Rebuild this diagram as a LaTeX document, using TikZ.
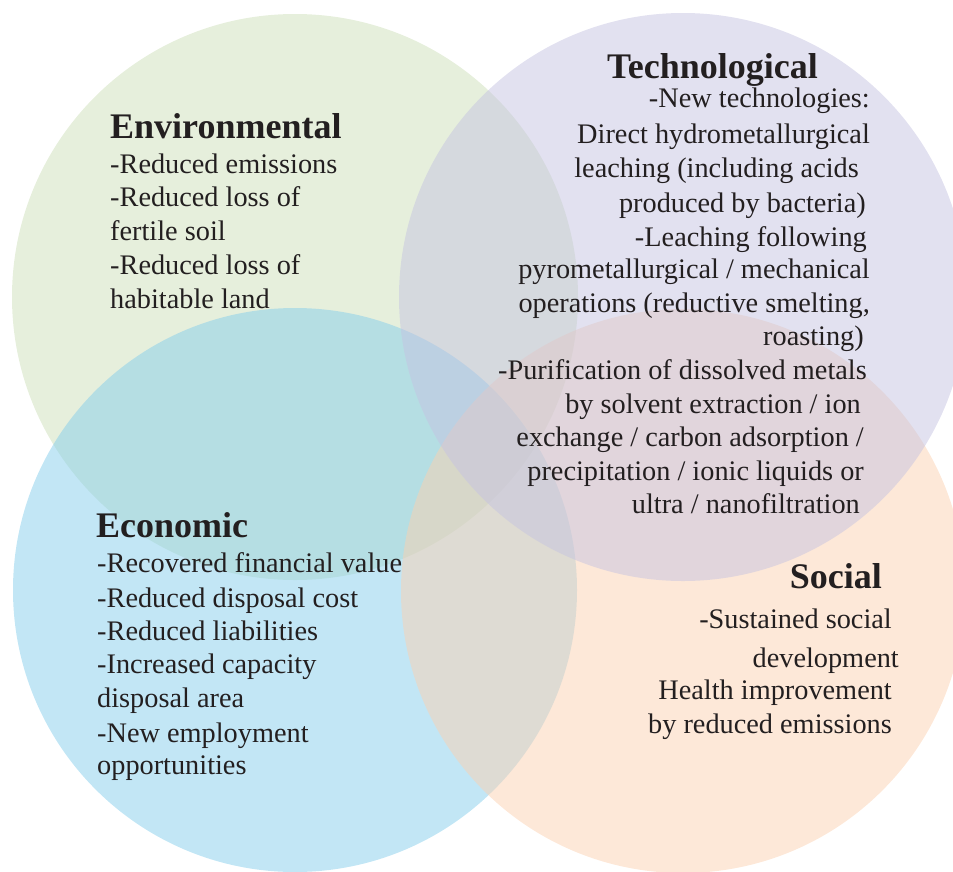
\documentclass[tikz,border=0pt]{standalone}
\usepackage{fontspec}
\setmainfont{Liberation Serif}
\definecolor{cgreen}{RGB}{205,223,185}
\definecolor{cblue}{RGB}{133,205,235}
\definecolor{corange}{RGB}{251,209,177}
\definecolor{cpurple}{RGB}{197,195,225}
\definecolor{ctext}{RGB}{35,31,32}
\begin{document}
\begin{tikzpicture}[x=1pt,y=-1pt,
  disc/.style={fill opacity=0.5},
  body/.style={inner sep=0pt, text=ctext, font=\fontsize{28.3}{34}\selectfont},
  head/.style={inner sep=0pt, text=ctext, font=\fontsize{36}{40}\selectfont\bfseries},
  lft/.style={anchor=base west},
  rgt/.style={anchor=base east}]
\useasboundingbox (0,0) rectangle (953,871);
% circles
\fill[cgreen, disc] (295,297) circle[radius=283pt];
\fill[cblue, disc] (295,590) circle[radius=282pt];
\fill[corange, disc] (683,591) circle[radius=282pt];
\fill[cpurple, disc] (683,297) circle[radius=284pt];
% Environmental
\node[head, lft] (envh) at (110,138) {Environmental};
\foreach \t [count=\i] in {-Reduced emissions, -Reduced loss of, fertile soil, -Reduced loss of, habitable land}
  \node[body, lft] (env\i) at (110,{173+33.8*(\i-1)}) {\t};
% Economic
\node[head, lft] (ecoh) at (96,537) {Economic};
\node[body, lft] (eco1) at (97,572) {-Recovered financial value};
\node[body, lft] (eco2) at (97,607) {-Reduced disposal cost};
\node[body, lft] (eco3) at (97,640) {-Reduced liabilities};
\node[body, lft] (eco4) at (97,673) {-Increased capacity};
\node[body, lft] (eco5) at (97,707) {disposal area};
\node[body, lft] (eco6) at (97,742) {-New employment};
\node[body, lft] (eco7) at (97,774) {opportunities};
% Technological
\node[head, rgt] (techh) at (818,78) {Technological};
\node[body, rgt] (tech1) at (870,107) {-New technologies:};
\node[body, rgt] (tech2) at (870,143) {Direct hydrometallurgical};
\node[body, rgt] (tech3) at (859,177) {leaching (including acids};
\node[body, rgt] (tech4) at (866,212) {produced by bacteria)};
\node[body, rgt] (tech5) at (867,246) {-Leaching following};
\node[body, rgt] (tech6) at (870,278) {pyrometallurgical / mechanical};
\node[body, rgt] (tech7) at (870,312) {operations (reductive smelting,};
\node[body, rgt] (tech8) at (864,345) {roasting)};
\node[body, rgt] (tech9) at (867,379) {-Purification of dissolved metals};
\node[body, rgt] (tech10) at (861,413) {by solvent extraction / ion};
\node[body, rgt] (tech11) at (864,446) {exchange / carbon adsorption /};
\node[body, rgt] (tech12) at (864,480) {precipitation / ionic liquids or};
\node[body, rgt] (tech13) at (860,513) {ultra / nanofiltration};
% Social
\node[head, rgt] (soch) at (882,588) {Social};
\node[body, rgt] (soc1) at (892,628) {-Sustained social};
\node[body, rgt] (soc2) at (899,667) {development};
\node[body, rgt] (soc3) at (892,699) {Health improvement};
\node[body, rgt] (soc4) at (892,733) {by reduced emissions};
\end{tikzpicture}
\end{document}
